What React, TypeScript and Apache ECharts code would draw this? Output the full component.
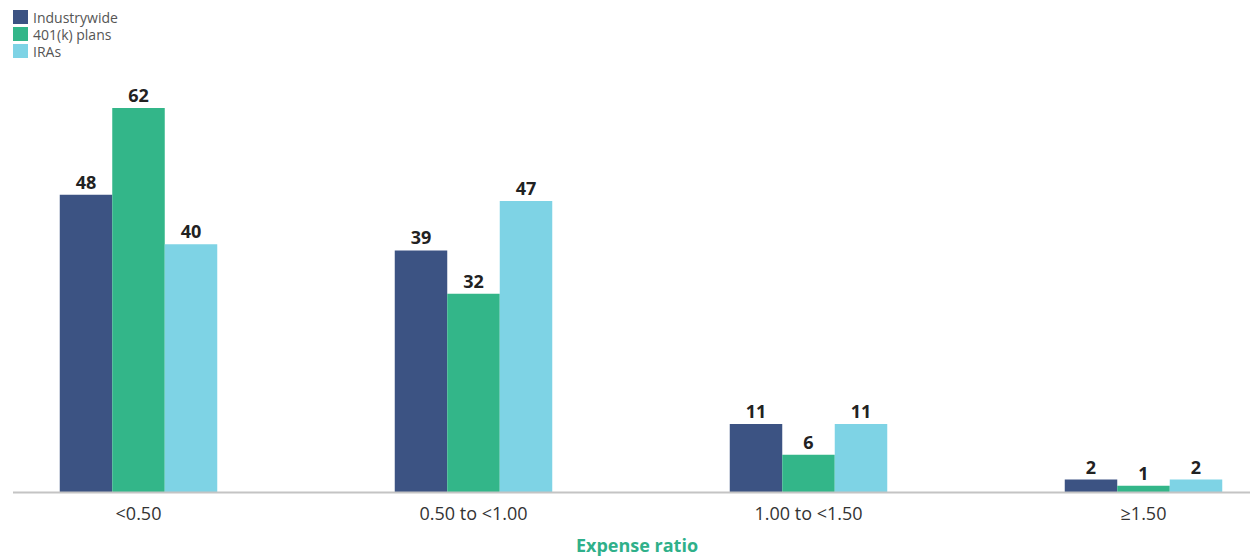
import React, { useEffect, useRef } from "react";
import * as echarts from "echarts";

const categories = ["<0.50", "0.50 to <1.00", "1.00 to <1.50", "≥1.50"];
const industrywide = [48, 39, 11, 2];
const plans401k = [62, 32, 6, 1];
const iras = [40, 47, 11, 2];
const seriesNames = ["Industrywide", "401(k) plans", "IRAs"];
const colors = ["#3c5383", "#33b689", "#7ed3e5"];

export default function App() {
  const ref = useRef<HTMLDivElement>(null);
  useEffect(() => {
    document.body.style.margin = "0";
    const chart = echarts.init(ref.current!, null, { renderer: "svg" });
    const font = "'Open Sans', 'Noto Sans', sans-serif";
    const label = {
      show: true,
      position: "top" as const,
      distance: 4,
      fontSize: 18,
      fontWeight: "bold" as const,
      color: "#222",
      fontFamily: font,
    };
    const data = [industrywide, plans401k, iras];
    chart.setOption({
      animation: false,
      color: colors,
      textStyle: { fontFamily: font },
      legend: {
        orient: "vertical",
        left: 13,
        top: 9,
        padding: 0,
        itemWidth: 15,
        itemHeight: 14,
        itemGap: 1,
        icon: "rect",
        textStyle: { fontSize: 14, lineHeight: 16, color: "#555", fontFamily: font },
        data: seriesNames,
      },
      title: {
        text: "Expense ratio",
        left: 637,
        textAlign: "center",
        top: 536,
        padding: 0,
        textStyle: { fontSize: 18, fontWeight: "bold", color: "#2fb08a", fontFamily: font },
      },
      grid: { left: 138.5, right: 113.5, top: 58.5, bottom: 65, containLabel: false },
      xAxis: {
        type: "category",
        data: categories,
        boundaryGap: false,
        axisLine: { show: false },
        axisTick: { show: false },
        axisLabel: { fontSize: 18, color: "#333", margin: 12, fontFamily: font },
      },
      yAxis: {
        type: "value",
        min: 0,
        max: 70,
        show: false,
        splitLine: { show: false },
      },
      graphic: [
        {
          type: "line",
          shape: { x1: 13, y1: 492.5, x2: 1250, y2: 492.5 },
          style: { stroke: "#c4c4c4", lineWidth: 2 },
          z: 10,
        },
      ],
      series: seriesNames.map((name, i) => ({
        name,
        type: "bar",
        data: data[i],
        barWidth: 52.5,
        barGap: 0,
        label,
        itemStyle: { color: colors[i] },
      })),
    });
    return () => chart.dispose();
  }, []);
  return <div ref={ref} style={{ width: 1257, height: 557 }} />;
}
